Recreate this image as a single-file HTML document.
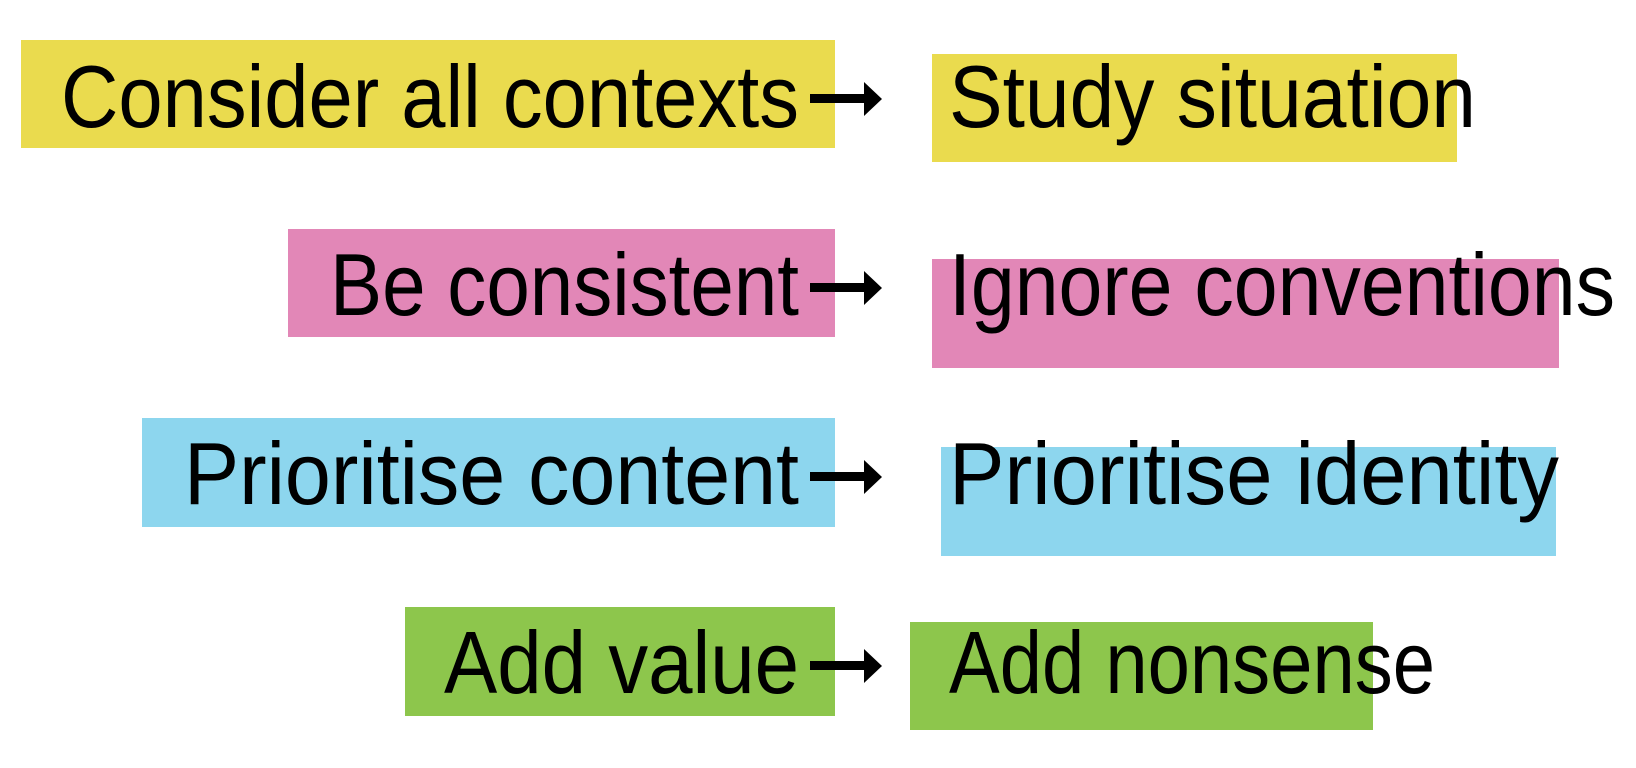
<!DOCTYPE html>
<html><head><meta charset="utf-8"><style>
html,body{margin:0;padding:0;background:#fff;}
svg{display:block}
text{font-family:"Liberation Sans",sans-serif;font-size:88px;fill:#000;}
</style></head><body>
<svg width="1636" height="768" viewBox="0 0 1636 768" xmlns="http://www.w3.org/2000/svg">
<rect x="21" y="40" width="814" height="108" fill="#EADB4E"/>
<rect x="932" y="54" width="525" height="108" fill="#EADB4E"/>
<rect x="288" y="229" width="547" height="108" fill="#E287B7"/>
<rect x="932" y="259" width="627" height="109" fill="#E287B7"/>
<rect x="941" y="447" width="615" height="109" fill="#8DD6EE"/>
<rect x="142" y="418" width="693" height="109" fill="#8DD6EE"/>
<rect x="405" y="607" width="430" height="109" fill="#8DC64C"/>
<rect x="910" y="622" width="463" height="108" fill="#8DC64C"/>

<text x="61" y="127" textLength="738" lengthAdjust="spacingAndGlyphs">Consider all contexts</text>
<text x="949" y="127" textLength="527" lengthAdjust="spacingAndGlyphs">Study situation</text>
<text x="330" y="315" textLength="469" lengthAdjust="spacingAndGlyphs">Be consistent</text>
<text x="949" y="315" textLength="666" lengthAdjust="spacingAndGlyphs">Ignore conventions</text>
<text x="184" y="504" textLength="615" lengthAdjust="spacingAndGlyphs">Prioritise content</text>
<text x="949" y="504" textLength="610" lengthAdjust="spacingAndGlyphs">Prioritise identity</text>
<text x="444" y="693" textLength="355" lengthAdjust="spacingAndGlyphs">Add value</text>
<text x="949" y="693" textLength="486" lengthAdjust="spacingAndGlyphs">Add nonsense</text>

<g fill="#000">
<rect x="810" y="94" width="58" height="9"/><polygon points="864,82 882,99 864,116"/>
<rect x="810" y="283" width="58" height="9"/><polygon points="864,271 882,288 864,305"/>
<rect x="810" y="472" width="58" height="9"/><polygon points="864,460 882,477 864,494"/>
<rect x="810" y="661" width="58" height="9"/><polygon points="864,649 882,666 864,683"/>
</g>
</svg>
</body></html>
